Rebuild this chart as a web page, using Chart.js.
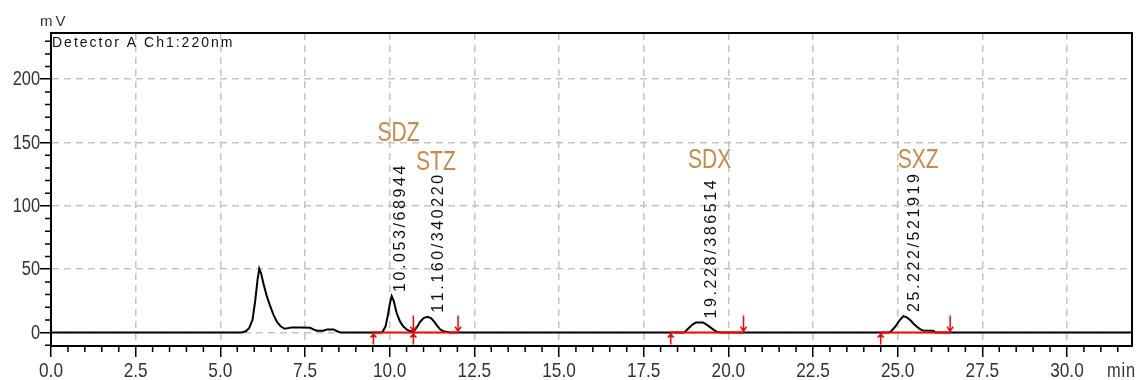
<!DOCTYPE html>
<html>
<head>
<meta charset="utf-8">
<script src="https://cdn.jsdelivr.net/npm/chart.js@4/dist/chart.umd.min.js"></script>
<style>
  html, body { margin: 0; padding: 0; background: #fff; }
  #wrap { width: 1139px; height: 380px; position: relative; }
</style>
</head>
<body>
<div id="wrap"><canvas id="c" width="1139" height="380"></canvas></div>
<script>
// Detector A, Ch1 220 nm — retention time (min) vs. response (mV)
const times = [
  0, 5.60, 5.63, 5.75, 5.85, 5.95, 6.03, 6.10, 6.15, 6.20, 6.28, 6.37, 6.47, 6.57, 6.67, 6.78, 6.90,
  7.00, 7.10, 7.40, 7.65, 7.75, 7.85, 8.05, 8.15, 8.35, 8.45, 8.55,
  9.75, 9.80, 9.88, 9.95, 10.00, 10.06, 10.12, 10.20, 10.30, 10.40, 10.50, 10.60, 10.70,
  10.80, 10.90, 11.00, 11.12, 11.22, 11.32, 11.40, 11.50, 11.62, 11.80,
  18.70, 18.75, 18.85, 18.95, 19.05, 19.25, 19.35, 19.45, 19.55, 19.65, 19.75,
  24.75, 24.82, 24.93, 25.05, 25.17, 25.27, 25.37, 25.47, 25.57, 25.67, 25.75, 26.05, 26.12,
  31.92
];
const signal = [
  0, 0, 0, 1, 3.5, 10, 25, 42, 50.5, 47, 38, 29, 21, 14, 8.5, 5, 3,
  3.5, 4, 4, 3.8, 2.5, 1.4, 1.4, 2.5, 2.5, 1, 0,
  0, 1, 5, 14, 22, 28.8, 25, 16, 9, 5, 2.5, 1.2, 0.6,
  4, 8.5, 11.5, 12.5, 11.5, 8.5, 5.5, 2.2, 0.8, 0,
  0, 1.5, 4, 6.5, 8, 8, 6.5, 4.5, 2.5, 0.7, 0,
  0, 1.5, 4.6, 9.5, 13, 12, 9.9, 7, 4.6, 2.5, 1.7, 1.5, 0,
  0
];

// Identified peaks
const peakNames = ['SDZ', 'STZ', 'SDX', 'SXZ'];
const retentionTimes = [10.053, 11.160, 19.228, 25.222];
const peakTexts = ['10.053/68944', '11.160/340220', '19.228/386514', '25.222/521919'];
const peakHeights = [28.8, 12.5, 8.0, 13.0];
const peakStarts = [9.52, 10.70, 18.30, 24.50];
const peakEnds = [10.70, 12.02, 20.45, 26.55];

// Axis tick labels
const xTicks = [0, 2.5, 5, 7.5, 10, 12.5, 15, 17.5, 20, 22.5, 25, 27.5, 30];
const yTicks = [0, 50, 100, 150, 200];

const SANS = "'Liberation Sans', Arial, sans-serif";

function spacedText(ctx, text, x, y, spacing) {
  let cx = x;
  for (const ch of text) {
    ctx.fillText(ch, cx, y);
    cx += ctx.measureText(ch).width + spacing;
  }
}

// condensed text: horizontally squeezed glyphs
function narrowText(ctx, text, x, y, squeeze, spacing) {
  ctx.save();
  ctx.translate(x, y);
  ctx.scale(squeeze, 1);
  if (spacing) spacedText(ctx, text, 0, 0, spacing);
  else ctx.fillText(text, 0, 0);
  ctx.restore();
}

const chromPlugin = {
  id: 'chrom',
  afterDatasetsDraw(chart, args, opts) {
    const { ctx, chartArea: a, scales: { x, y } } = chart;
    ctx.save();

    // frame: top and right edges
    ctx.strokeStyle = '#000';
    ctx.lineWidth = 2;
    ctx.beginPath();
    ctx.moveTo(a.left - 1, a.top);
    ctx.lineTo(a.right, a.top);
    ctx.lineTo(a.right, a.bottom + 1);
    ctx.stroke();

    // minor ticks
    ctx.lineWidth = 1.5;
    ctx.beginPath();
    for (let i = 1; i * 0.5 <= x.max; i++) {
      if (i % 5 === 0) continue;
      const px = x.getPixelForValue(i * 0.5);
      ctx.moveTo(px, a.bottom);
      ctx.lineTo(px, a.bottom + 6);
    }
    for (let i = -1; i * 10 <= y.max; i++) {
      if (i % 5 === 0) continue;
      const py = y.getPixelForValue(i * 10);
      ctx.moveTo(a.left - 6, py);
      ctx.lineTo(a.left, py);
    }
    ctx.stroke();

    // tick labels (condensed face) from the scales' own ticks
    ctx.fillStyle = '#333';
    ctx.textBaseline = 'middle';
    ctx.font = '21px ' + SANS;
    ctx.textAlign = 'center';
    x.ticks.forEach(t => {
      narrowText(ctx, t.label, x.getPixelForValue(t.value), a.bottom + 25, 0.82);
    });
    ctx.font = '20px ' + SANS;
    ctx.textAlign = 'right';
    y.ticks.forEach(t => {
      narrowText(ctx, t.label, a.left - 11, y.getPixelForValue(t.value) + 0.5, 0.82);
    });

    // integration baselines and start / end markers
    const y0 = y.getPixelForValue(0);
    ctx.strokeStyle = '#ff0000';
    ctx.lineWidth = 2;
    ctx.beginPath();
    peakStarts.forEach((s, i) => {
      ctx.moveTo(x.getPixelForValue(s), y0);
      ctx.lineTo(x.getPixelForValue(peakEnds[i]), y0);
    });
    ctx.stroke();
    ctx.lineWidth = 1.5;
    ctx.beginPath();
    peakStarts.forEach(s => {
      const px = x.getPixelForValue(s);
      ctx.moveTo(px, y0 + 12); ctx.lineTo(px, y0);
      ctx.moveTo(px - 3, y0 + 5); ctx.lineTo(px, y0 + 1.5); ctx.lineTo(px + 3, y0 + 5);
    });
    peakEnds.forEach(e => {
      const px = x.getPixelForValue(e);
      ctx.moveTo(px, y0 - 17); ctx.lineTo(px, y0);
      ctx.moveTo(px - 3, y0 - 6); ctx.lineTo(px, y0 - 1.5); ctx.lineTo(px + 3, y0 - 6);
    });
    ctx.stroke();

    // retention time / area labels, written upward
    ctx.fillStyle = '#111';
    ctx.font = '16px ' + SANS;
    ctx.textAlign = 'left';
    ctx.textBaseline = 'middle';
    retentionTimes.forEach((rt, i) => {
      const px = x.getPixelForValue(rt) + 9.5;
      const py = y.getPixelForValue(peakHeights[i]) - 4;
      ctx.save();
      ctx.translate(px, py);
      ctx.rotate(-Math.PI / 2);
      spacedText(ctx, peakTexts[i], 0, 0, 2.6);
      ctx.restore();
    });

    // compound names
    ctx.fillStyle = '#c98a4b';
    ctx.font = '27px ' + SANS;
    ctx.textAlign = 'center';
    retentionTimes.forEach((rt, i) => {
      const px = x.getPixelForValue(rt) + opts.nameDx[i];
      const py = y.getPixelForValue(opts.nameLevel[i]);
      narrowText(ctx, peakNames[i], px, py, 0.78);
    });

    // captions
    ctx.textAlign = 'left';
    ctx.fillStyle = '#111';
    ctx.font = '14px ' + SANS;
    spacedText(ctx, 'Detector A Ch1:220nm', a.left + 1, a.top + 10, 2.0);
    ctx.fillStyle = '#333';
    ctx.font = '15px ' + SANS;
    spacedText(ctx, 'mV', a.left - 11, a.top - 11, 3);
    ctx.font = '20px ' + SANS;
    narrowText(ctx, 'min', a.right - 25, a.bottom + 25, 0.82, 1);

    ctx.restore();
  }
};

new Chart(document.getElementById('c'), {
  type: 'line',
  data: {
    datasets: [{
      data: times.map((t, i) => ({ x: t, y: signal[i] })),
      borderColor: '#000',
      borderWidth: 2,
      pointRadius: 0,
      tension: 0,
      fill: false
    }]
  },
  options: {
    responsive: false,
    devicePixelRatio: 1,
    animation: false,
    events: [],
    layout: { padding: { top: 33, right: 7, left: 0, bottom: 0 } },
    plugins: {
      legend: { display: false },
      tooltip: { enabled: false },
      chrom: {
        nameDx: [7, 7, 7.5, 13],
        nameLevel: [157, 134, 136, 136]
      }
    },
    scales: {
      x: {
        type: 'linear',
        min: 0,
        max: 31.92,
        afterFit: s => { s.height = 34; },
        afterBuildTicks: s => { s.ticks = xTicks.map(v => ({ value: v })); },
        ticks: {
          autoSkip: false,
          maxRotation: 0,
          padding: 2,
          color: 'rgba(0,0,0,0)',
          font: { size: 20, family: SANS },
          callback: v => Number(v).toFixed(1)
        },
        grid: {
          color: '#c4c4c4',
          lineWidth: 1.5,
          drawTicks: true,
          tickLength: 11,
          tickColor: '#000',
          tickWidth: 1.5
        },
        border: { display: true, color: '#000', width: 2, dash: [7, 5] }
      },
      y: {
        type: 'linear',
        min: -10.6,
        max: 236.5,
        afterFit: s => { s.width = 51; },
        afterBuildTicks: s => { s.ticks = yTicks.map(v => ({ value: v })); },
        ticks: {
          autoSkip: false,
          padding: 1,
          color: 'rgba(0,0,0,0)',
          font: { size: 19, family: SANS },
          callback: v => String(v)
        },
        grid: {
          color: '#c4c4c4',
          lineWidth: 1.5,
          drawTicks: true,
          tickLength: 11,
          tickColor: '#000',
          tickWidth: 1.5
        },
        border: { display: true, color: '#000', width: 2, dash: [7, 5] }
      }
    }
  },
  plugins: [chromPlugin]
});
</script>
</body>
</html>
